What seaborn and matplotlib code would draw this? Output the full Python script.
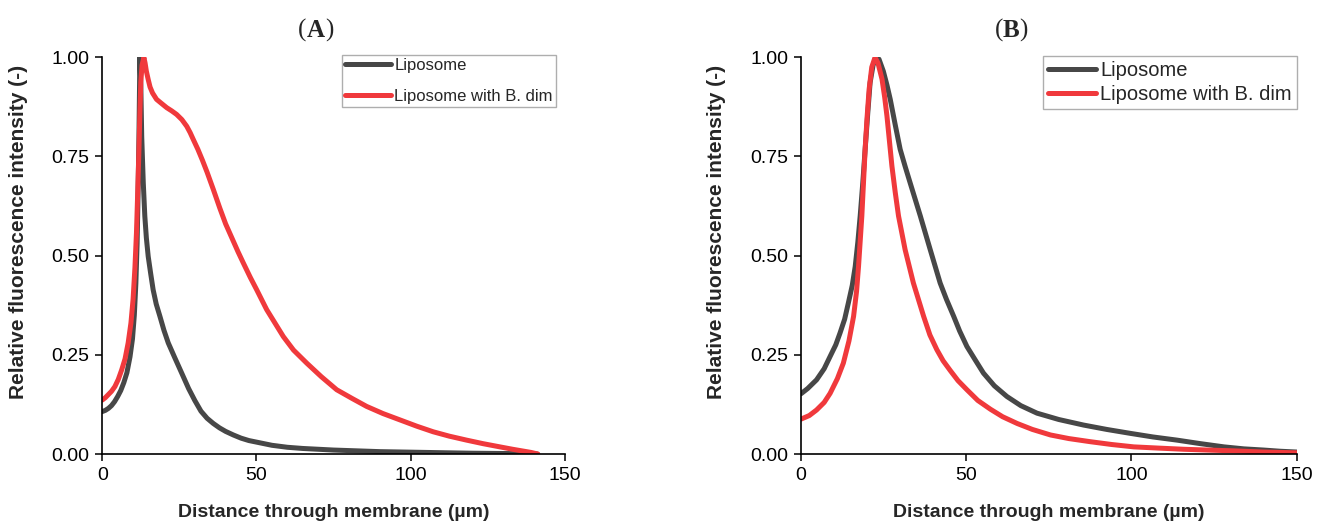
import matplotlib
matplotlib.use("Agg")
import matplotlib.pyplot as plt
import pandas as pd
import seaborn as sns

# Panel A: profile through the membrane
lipo_a_x = [0, 1, 2, 3, 4, 5, 6, 7, 8, 9, 9.8, 10.4, 10.9, 11.3, 11.6, 11.9, 12.2, 12.5,
            12.8, 13.3, 13.8, 14.3, 14.9, 15.7, 16.5, 17.5, 18.7, 20, 21.4, 23.5, 25.7, 28,
            30, 32, 34, 36, 38, 40, 42.5, 45, 47.5, 50, 55, 60, 65, 75, 90, 105, 120, 135, 141]
lipo_a_y = [0.107, 0.11, 0.115, 0.122, 0.132, 0.145, 0.16, 0.18, 0.205, 0.245, 0.29, 0.35,
            0.43, 0.53, 0.65, 0.8, 1.0, 0.93, 0.8, 0.684, 0.6, 0.545, 0.498, 0.455, 0.414,
            0.378, 0.347, 0.312, 0.28, 0.243, 0.205, 0.165, 0.135, 0.108, 0.09, 0.077,
            0.066, 0.057, 0.048, 0.04, 0.034, 0.03, 0.022, 0.017, 0.014, 0.01, 0.006, 0.004,
            0.002, 0.001, 0.0]
bdim_a_x = [0, 1, 2, 3, 4.1, 5.2, 6.3, 7.4, 8.4, 9.3, 10, 10.6, 11.1, 11.5, 11.9, 12.2,
            12.5, 12.9, 13.5, 13.9, 14.3, 14.9, 15.5, 16.3, 17.6, 19, 20.9, 22.5, 24.1,
            25.8, 27.4, 28.5, 29.5, 31, 32.5, 34, 36, 38.1, 40, 42, 44, 45.7, 48, 50, 53.3,
            56, 58.7, 62, 66.3, 71, 76, 81, 85.7, 91, 96.5, 102, 107.3, 112.5, 118.1, 123.5,
            128.9, 133, 136, 139, 141.2]
bdim_a_y = [0.136, 0.142, 0.15, 0.158, 0.17, 0.188, 0.212, 0.24, 0.28, 0.33, 0.39, 0.47,
            0.558, 0.66, 0.768, 0.86, 0.937, 0.98, 1.0, 0.985, 0.965, 0.944, 0.925, 0.91,
            0.894, 0.885, 0.873, 0.865, 0.856, 0.843, 0.826, 0.81, 0.793, 0.768, 0.74, 0.71,
            0.667, 0.62, 0.58, 0.545, 0.51, 0.482, 0.445, 0.415, 0.364, 0.33, 0.296, 0.262,
            0.229, 0.195, 0.162, 0.14, 0.12, 0.102, 0.086, 0.07, 0.056, 0.045, 0.035, 0.026,
            0.018, 0.012, 0.008, 0.004, 0.0]

# Panel B
lipo_b_x = [0, 2, 4.7, 7, 8.8, 10.5, 11.8, 13.2, 14.3, 15.5, 16.4, 17.2, 17.9, 18.7, 19.4,
            20.2, 20.9, 21.8, 22.7, 23.6, 24.9, 26, 27, 28.5, 30, 31.5, 33, 36.1, 39.1, 42.1,
            44, 46.2, 48, 50.2, 52.5, 55.2, 58.5, 62.3, 66.5, 71.4, 78, 85.5, 92.5, 99.7,
            106.5, 113.8, 121, 128, 134, 140, 145, 150]
lipo_b_y = [0.152, 0.165, 0.187, 0.215, 0.246, 0.275, 0.305, 0.34, 0.38, 0.425, 0.473,
            0.535, 0.6, 0.685, 0.768, 0.86, 0.936, 0.98, 1.0, 0.995, 0.965, 0.93, 0.894,
            0.83, 0.768, 0.725, 0.684, 0.6, 0.515, 0.431, 0.39, 0.347, 0.31, 0.271, 0.24,
            0.204, 0.172, 0.145, 0.122, 0.103, 0.087, 0.073, 0.062, 0.052, 0.043, 0.035,
            0.026, 0.018, 0.013, 0.01, 0.007, 0.005]
bdim_b_x = [0, 2.5, 4.7, 7, 8.8, 11, 12.8, 14.5, 15.9, 16.8, 17.4, 18.4, 19.4, 20, 20.6,
            21.4, 22.4, 23.3, 24.5, 25.3, 26, 27.5, 28.5, 29.5, 31.5, 34, 37.1, 39, 41.1,
            43, 45.2, 47.5, 50.2, 53.5, 57.3, 61, 65.4, 70, 75.5, 81, 87.6, 94, 100.7, 108,
            115.8, 123, 131, 140, 150]
bdim_b_y = [0.088, 0.097, 0.111, 0.13, 0.153, 0.19, 0.229, 0.285, 0.347, 0.41, 0.473, 0.6,
            0.768, 0.85, 0.919, 0.975, 1.0, 0.985, 0.945, 0.9, 0.852, 0.726, 0.66, 0.6,
            0.515, 0.431, 0.347, 0.3, 0.263, 0.235, 0.21, 0.185, 0.162, 0.135, 0.113, 0.094,
            0.077, 0.062, 0.048, 0.039, 0.031, 0.024, 0.018, 0.015, 0.012, 0.01, 0.008,
            0.005, 0.003]

series_names = ["Liposome", "Liposome with B. dim"]
panel_labels = ["A", "B"]
x_ticks = [0, 50, 100, 150]
y_ticks = [0.00, 0.25, 0.50, 0.75, 1.00]
y_tick_labels = ["0.00", "0.25", "0.50", "0.75", "1.00"]
x_label = "Distance through membrane (\u00b5m)"
y_label = "Relative fluorescence intensity (-)"

colors = {series_names[0]: "#474747", series_names[1]: "#f0393c"}

sns.set_theme(style="ticks")
plt.rcParams["font.family"] = ["Liberation Sans", "DejaVu Sans"]


def frame(xs, ys, name):
    return pd.DataFrame({"x": xs, "y": ys, "series": name})


panels = [
    pd.concat([frame(lipo_a_x, lipo_a_y, series_names[0]),
               frame(bdim_a_x, bdim_a_y, series_names[1])]),
    pd.concat([frame(lipo_b_x, lipo_b_y, series_names[0]),
               frame(bdim_b_x, bdim_b_y, series_names[1])]),
]

fig = plt.figure(figsize=(13.26, 5.25), dpi=100)
ax_a = fig.add_axes([0.0771, 0.1352, 0.3490, 0.7557])
ax_b = fig.add_axes([0.6041, 0.1352, 0.3738, 0.7557])

legend_cfg = [
    dict(anchor=(0.981, 1.006), size=12, hlen=2.75, spacing=0.95, pad=0.2),
    dict(anchor=(1.0, 1.004), size=14.5, hlen=2.4, spacing=0.25, pad=0.25),
]
ylabel_x = [-0.160, -0.151]
title_x = [0.238, 0.763]

for ax, df, leg, tx, ylx, lab in zip([ax_a, ax_b], panels, legend_cfg, title_x,
                                      ylabel_x, panel_labels):
    sns.lineplot(data=df, x="x", y="y", hue="series", hue_order=series_names,
                 palette=colors, linewidth=3.6, sort=False, estimator=None,
                 ax=ax, legend=False)
    for ln in ax.lines:
        ln.set_solid_joinstyle("round")
        ln.set_solid_capstyle("round")
    ax.set_xlim(0, 150)
    ax.set_ylim(0, 1.0)
    ax.set_xticks(x_ticks)
    ax.set_yticks(y_ticks)
    ax.set_yticklabels(y_tick_labels)
    ax.tick_params(axis="both", direction="out", length=5, width=1.1,
                   labelsize=14, color="black", labelcolor="black", pad=4)
    for side in ["top", "right"]:
        ax.spines[side].set_visible(False)
    for side in ["left", "bottom"]:
        ax.spines[side].set_color("black")
        ax.spines[side].set_linewidth(1.2)
    ax.set_xlabel(x_label, fontsize=14, fontweight="bold", labelpad=15)
    ax.set_ylabel(y_label, fontsize=15, fontweight="bold")
    ax.yaxis.set_label_coords(ylx, 0.56)

    handles = [plt.Line2D([], [], color=colors[n], linewidth=3.6) for n in series_names]
    lg = ax.legend(handles, series_names, loc="upper right",
                   bbox_to_anchor=leg["anchor"], borderaxespad=0,
                   fontsize=leg["size"], frameon=True, fancybox=False,
                   edgecolor="#9a9a9a", handlelength=leg["hlen"], handletextpad=0.2,
                   labelspacing=leg["spacing"], borderpad=leg["pad"])
    lg.get_frame().set_linewidth(1.0)

    # Panel label: bold letter inside regular parentheses
    base_y = 0.9295
    t1 = fig.text(tx - 0.013, base_y, "(", fontsize=18, family="Liberation Serif",
                  va="baseline", ha="left")
    t2 = fig.text(0, base_y, lab, fontsize=18, family="Liberation Serif",
                  fontweight="bold", va="baseline", ha="left")
    fig.canvas.draw()
    inv = fig.transFigure.inverted()
    bb = t1.get_window_extent()
    t2.set_x(inv.transform((bb.x1, bb.y0))[0])
    fig.canvas.draw()
    bb2 = t2.get_window_extent()
    fig.text(inv.transform((bb2.x1, bb2.y0))[0], base_y, ")", fontsize=18,
             family="Liberation Serif", va="baseline", ha="left")

fig.savefig("out.png", dpi=100)
